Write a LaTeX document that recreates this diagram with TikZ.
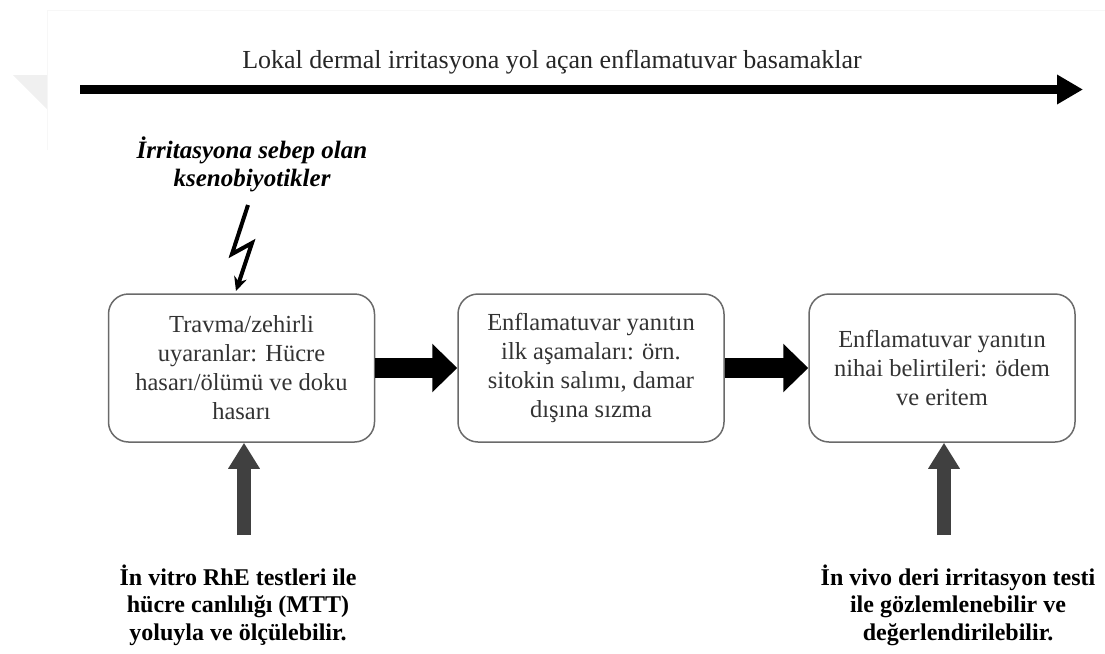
\documentclass[tikz,border=0pt]{standalone}
\usepackage{fontspec}
\setmainfont{Liberation Serif}
\usetikzlibrary{arrows.meta}
\definecolor{boxline}{HTML}{6A6A6A}
\definecolor{boxtext}{HTML}{333333}
\definecolor{probegray}{HTML}{404040}

\begin{document}
\begin{tikzpicture}[x=1pt,y=-1pt,
		stage/.style={draw=boxline,line width=1.5pt,rounded corners=20pt,minimum width=266pt,minimum height=148pt,align=center,text=boxtext,font=\fontsize{24.5}{29}\selectfont},
		flow/.style={line width=20pt,-{Triangle[length=25pt,width=47pt]}},
		probe/.style={line width=14pt,probegray,-{Triangle[length=26pt,width=30pt]}},
		note/.style={align=center,font=\bfseries\fontsize{24}{27.5}\selectfont}]
			\useasboundingbox (0,0) rectangle (1105,653);
			\draw[black!3,line width=0.8pt] (47,150) -- (47,10) -- (1105,10);
			\fill[black!6] (13,75) -- (47,75) -- (47,109) -- cycle;
			% timeline
			\node[anchor=base,text=black!85,font=\fontsize{26}{30}\selectfont] (title) at (552,68) {Lokal dermal irritasyona yol açan enflamatuvar basamaklar};
			\coordinate (tl0) at (80,89.5);
			\coordinate (tl1) at (1083,89.5);
			\draw[line width=9pt,-{Triangle[length=26pt,width=28pt]}] (tl0) -- (tl1);
			% stages
			\node[stage] (b1) at (241.5,368) {Travma/zehirli\\uyaranlar: Hücre\\hasarı/ölümü ve doku\\hasarı};
			\node[stage] (b2) at (591,368) {Enflamatuvar yanıtın\\ilk aşamaları: örn.\\sitokin salımı, damar\\dışına sızma};
			\node[stage] (b3) at (942,368) {Enflamatuvar yanıtın\\nihai belirtileri: ödem\\ve eritem};
			\draw[flow] (b1.east) -- (b2.west);
			\draw[flow] (b2.east) -- (b3.west);
			% cause
			\node[align=center,font=\bfseries\itshape\fontsize{25}{28}\selectfont] (cause) at (252,164.5) {İrritasyona sebep olan\\ksenobiyotikler};
			\coordinate (z0) at (248,205);
			\coordinate (z1) at (232,254);
			\coordinate (z2) at (252,243);
			\coordinate (z3) at (236,291);
			\draw[line width=4pt,line join=miter,-{Stealth[length=14pt,width=13pt]}] (z0) -- (z1) -- (z2) -- (z3);
			% measurements
			\coordinate (p1) at (244,535);
			\coordinate (p3) at (944,535);
			\draw[probe] (p1) -- (p1 |- b1.south);
			\draw[probe] (p3) -- (p3 |- b3.south);
			\node[note] (m1) at (238,605) {İn vitro RhE testleri ile\\hücre canlılığı (MTT)\\yoluyla ve ölçülebilir.};
			\node[note] (m3) at (958,605) {İn vivo deri irritasyon testi\\ile gözlemlenebilir ve\\değerlendirilebilir.};
		\end{tikzpicture}
\end{document}
